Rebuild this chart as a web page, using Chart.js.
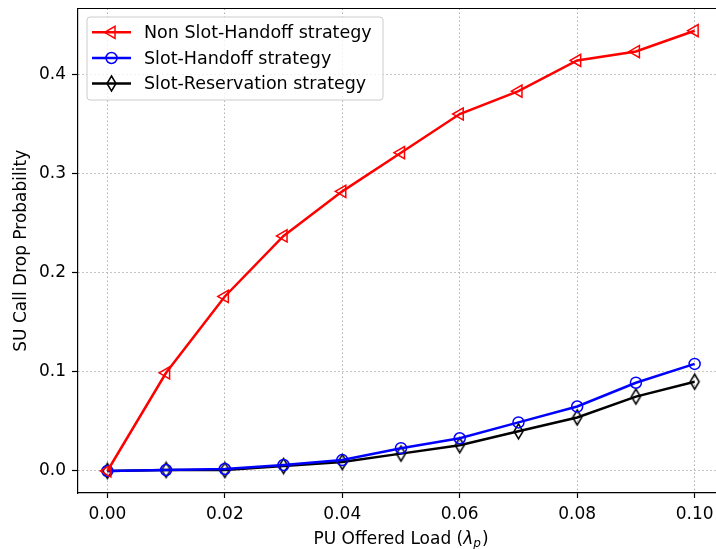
<!DOCTYPE html>
<html>
<head>
<meta charset="utf-8">
<script src="https://cdn.jsdelivr.net/npm/chart.js@4.4.1/dist/chart.umd.min.js"></script>
<style>
  html, body { margin: 0; padding: 0; background: #fff; overflow: hidden; }
  #clip { width: 716px; height: 549px; overflow: hidden; position: relative; }
  #wrap { width: 740px; height: 549px; position: absolute; left: 0; top: 0; }
</style>
</head>
<body>
<div id="clip"><div id="wrap"><canvas id="c" width="740" height="549"></canvas></div></div>
<script>
// ---- data ----
const loads = [0.00, 0.01, 0.02, 0.03, 0.04, 0.05, 0.06, 0.07, 0.08, 0.09, 0.10];
const nonSlotHandoff = [0.000, 0.099, 0.176, 0.237, 0.282, 0.321, 0.360, 0.383, 0.414, 0.423, 0.444];
const slotHandoff = [0.000, 0.001, 0.002, 0.006, 0.011, 0.023, 0.033, 0.049, 0.065, 0.089, 0.108];
const slotReservation = [0.000, 0.001, 0.001, 0.005, 0.009, 0.0175, 0.026, 0.040, 0.054, 0.075, 0.090];
const seriesNames = ['Non Slot-Handoff strategy', 'Slot-Handoff strategy', 'Slot-Reservation strategy'];
const xTicks = [0.00, 0.02, 0.04, 0.06, 0.08, 0.10];
const yTicks = [0.0, 0.1, 0.2, 0.3, 0.4];
const xTitleMain = 'PU Offered Load (';
const xTitleSym = 'λ';
const xTitleSub = 'p';
const yTitle = 'SU Call Drop Probability';

const FONT = '"DejaVu Sans", sans-serif';
const FS = 17;

// thin diamond marker (matplotlib 'd')
function makeThinDiamond(w, h, color, lw) {
  const c = document.createElement('canvas');
  c.width = w + 4; c.height = h + 4;
  const g = c.getContext('2d');
  const cx = c.width / 2, cy = c.height / 2;
  g.strokeStyle = color; g.lineWidth = lw;
  g.beginPath();
  g.moveTo(cx, cy - h / 2);
  g.lineTo(cx + w / 2, cy);
  g.lineTo(cx, cy + h / 2);
  g.lineTo(cx - w / 2, cy);
  g.closePath();
  g.stroke();
  return c;
}
const diamond = makeThinDiamond(9, 15, '#000000', 1.5);

function pts(arr) { return loads.map((x, i) => ({ x: x, y: arr[i] })); }

const styles = [
  { color: '#ff0000', pointStyle: 'triangle', rotation: -90, radius: 7 },
  { color: '#0000ff', pointStyle: 'circle', rotation: 0, radius: 5.5 },
  { color: '#000000', pointStyle: diamond, rotation: 0, radius: 7 }
];
const allSeries = [nonSlotHandoff, slotHandoff, slotReservation];

const datasets = allSeries.map((arr, i) => ({
  label: seriesNames[i],
  data: pts(arr),
  borderColor: styles[i].color,
  backgroundColor: 'rgba(0,0,0,0)',
  borderWidth: 2.5,
  pointStyle: styles[i].pointStyle,
  pointRotation: styles[i].rotation,
  pointRadius: styles[i].radius,
  pointHoverRadius: styles[i].radius,
  pointBorderColor: styles[i].color,
  pointBackgroundColor: 'rgba(0,0,0,0)',
  pointBorderWidth: 1.5,
  tension: 0,
  fill: false,
  clip: false
}));

function drawMarker(ctx, i, x, y) {
  const s = styles[i];
  ctx.save();
  ctx.strokeStyle = s.color;
  ctx.lineWidth = 1.5;
  if (s.pointStyle === 'circle') {
    ctx.beginPath(); ctx.arc(x, y, s.radius, 0, Math.PI * 2); ctx.stroke();
  } else if (s.pointStyle === 'triangle') {
    const r = s.radius;
    let rad = s.rotation * Math.PI / 180;
    ctx.beginPath();
    for (let k = 0; k < 3; k++) {
      const px = x + Math.sin(rad) * r, py = y - Math.cos(rad) * r;
      if (k === 0) ctx.moveTo(px, py); else ctx.lineTo(px, py);
      rad += 2 * Math.PI / 3;
    }
    ctx.closePath(); ctx.stroke();
  } else {
    ctx.drawImage(s.pointStyle, x - s.pointStyle.width / 2, y - s.pointStyle.height / 2);
  }
  ctx.restore();
}

function zeroPad(s) { s.paddingLeft = 0; s.paddingRight = 0; s.paddingTop = 0; s.paddingBottom = 0; }

const decor = {
  id: 'decor',
  afterDraw(chart) {
    const ctx = chart.ctx;
    const a = chart.chartArea;
    // top spine
    ctx.save();
    ctx.strokeStyle = '#000'; ctx.lineWidth = 1.2;
    ctx.beginPath();
    ctx.moveTo(a.left - 0.6, a.top); ctx.lineTo(a.right, a.top);
    ctx.stroke();
    ctx.restore();

    // legend
    const bx = 87, by = 17, bw = 296, bh = 83, br = 3;
    ctx.save();
    ctx.fillStyle = 'rgba(255,255,255,0.8)';
    ctx.strokeStyle = '#cccccc';
    ctx.lineWidth = 1;
    ctx.beginPath();
    ctx.moveTo(bx + br, by);
    ctx.arcTo(bx + bw, by, bx + bw, by + bh, br);
    ctx.arcTo(bx + bw, by + bh, bx, by + bh, br);
    ctx.arcTo(bx, by + bh, bx, by, br);
    ctx.arcTo(bx, by, bx + bw, by, br);
    ctx.closePath();
    ctx.fill(); ctx.stroke();
    const rows = [32.3, 58, 83.5];
    seriesNames.forEach((name, i) => {
      const y = rows[i];
      ctx.strokeStyle = styles[i].color;
      ctx.lineWidth = 2.5;
      ctx.beginPath(); ctx.moveTo(92, y); ctx.lineTo(131, y); ctx.stroke();
      drawMarker(ctx, i, 111.5, y);
      ctx.fillStyle = '#000';
      ctx.font = '17.5px ' + FONT;
      ctx.textBaseline = 'middle';
      ctx.textAlign = 'left';
      ctx.fillText(name, 144, y + 1);
    });
    ctx.restore();

    // x-axis title with italic lambda and subscript p
    ctx.save();
    ctx.fillStyle = '#000';
    ctx.textBaseline = 'alphabetic';
    ctx.textAlign = 'left';
    const fMain = FS + 'px ' + FONT;
    const fIt = 'italic ' + FS + 'px ' + FONT;
    const fSub = 'italic ' + Math.round(FS * 0.7) + 'px ' + FONT;
    ctx.font = fMain; const w1 = ctx.measureText(xTitleMain).width; const w4 = ctx.measureText(')').width;
    ctx.font = fIt; const w2 = ctx.measureText(xTitleSym).width;
    ctx.font = fSub; const w3 = ctx.measureText(xTitleSub).width;
    const total = w1 + w2 + w3 + w4 + 1;
    let x = (a.left + a.right) / 2 - total / 2;
    const base = 543.5;
    ctx.font = fMain; ctx.fillText(xTitleMain, x, base); x += w1;
    ctx.font = fIt; ctx.fillText(xTitleSym, x, base); x += w2;
    ctx.font = fSub; ctx.fillText(xTitleSub, x, base + 3.5); x += w3 + 1;
    ctx.font = fMain; ctx.fillText(')', x, base);
    ctx.restore();
  }
};

new Chart(document.getElementById('c'), {
  type: 'line',
  data: { datasets: datasets },
  options: {
    responsive: false,
    animation: false,
    devicePixelRatio: 1,
    layout: { padding: { left: 0, top: 8, right: 16, bottom: 0 } },
    plugins: { legend: { display: false }, tooltip: { enabled: false } },
    scales: {
      x: {
        type: 'linear',
        min: -0.005, max: 0.105,
        afterBuildTicks: (s) => { s.ticks = xTicks.map(v => ({ value: v })); },
        afterFit: (s) => { s.height = 56; zeroPad(s); },
        ticks: {
          callback: (v) => Number(v).toFixed(2),
          color: '#000',
          font: { family: FONT, size: FS },
          padding: 6,
          maxRotation: 0,
          autoSkip: false
        },
        grid: { color: '#b0b0b0', lineWidth: 1, tickColor: '#000', tickLength: 5, tickWidth: 1.2, tickBorderDash: [] },
        border: { display: true, color: '#000', width: 1.2, dash: [1.5, 2.5] },
        title: { display: false }
      },
      y: {
        type: 'linear',
        min: -0.0222, max: 0.4664,
        afterBuildTicks: (s) => { s.ticks = yTicks.map(v => ({ value: v })); },
        afterFit: (s) => { s.width = 78; zeroPad(s); },
        ticks: {
          callback: (v) => Number(v).toFixed(1),
          color: '#000',
          font: { family: FONT, size: FS },
          padding: 6,
          autoSkip: false
        },
        grid: { color: '#b0b0b0', lineWidth: 1, tickColor: '#000', tickLength: 6, tickWidth: 1.2, tickBorderDash: [] },
        border: { display: true, color: '#000', width: 1.2, dash: [1.5, 2.5] },
        title: {
          display: true,
          text: yTitle,
          color: '#000',
          font: { family: FONT, size: FS },
          padding: { top: 11, bottom: 0 }
        }
      }
    }
  },
  plugins: [decor]
});
</script>
</body>
</html>
